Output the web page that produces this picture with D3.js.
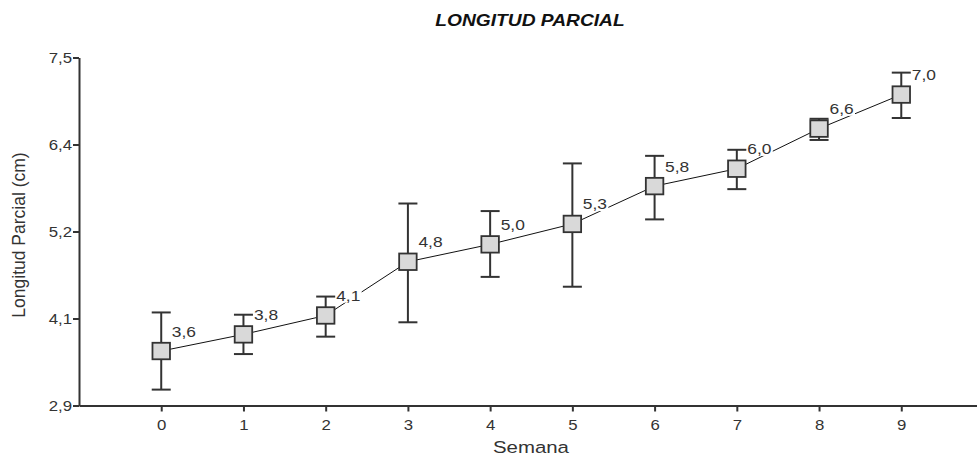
<!DOCTYPE html>
<html>
<head>
<meta charset="utf-8">
<script src="https://cdn.jsdelivr.net/npm/d3@7"></script>
<style>
  html, body { margin: 0; padding: 0; background: #fff; }
  svg { display: block; }
  text { font-family: "Liberation Sans", Arial, sans-serif; fill: #333; }
</style>
</head>
<body>
<svg id="chart" width="977" height="456"></svg>
<script>
// Weekly mean partial length with error bars
const semanas = [0, 1, 2, 3, 4, 5, 6, 7, 8, 9];
const media   = [3.62, 3.84, 4.09, 4.80, 5.03, 5.30, 5.80, 6.03, 6.56, 7.01];
const superior = [4.13, 4.10, 4.34, 5.57, 5.47, 6.10, 6.20, 6.28, 6.69, 7.30];
const inferior = [3.11, 3.58, 3.81, 4.00, 4.60, 4.47, 5.36, 5.76, 6.41, 6.70];
const yTickValues = [2.9, 4.05, 5.2, 6.35, 7.5];
const yTickLabels = ["2,9", "4,1", "5,2", "6,4", "7,5"];

const W = 977, H = 456;
const SX = 1.2; // horizontal widening of the text glyphs
const ink = "#333";

const svg = d3.select("#chart");

const x = d3.scaleLinear().domain([-1, 10]).range([79, 983.5]);
const y = d3.scaleLinear().domain([2.9, 7.5]).range([405.5, 57.5]);

const fmt = v => v.toFixed(1).replace(".", ",");

// Widened text placed at (px, py)
function wideText(parent, px, py, str, size, anchor) {
  const g = parent.append("g").attr("transform", `translate(${px},${py}) scale(${SX},1)`);
  const t = g.append("text").attr("font-size", size).attr("text-anchor", anchor || "start").text(str);
  return { g, t };
}

// Title
wideText(svg, 530, 26, "LONGITUD PARCIAL", 16, "middle").t
  .attr("font-weight", "bold").attr("font-style", "italic").style("fill", "#111");

// Y axis
const yAxis = d3.axisLeft(y).tickValues(yTickValues)
  .tickFormat((d, i) => yTickLabels[i]).tickSize(6).tickSizeOuter(0).tickPadding(0);
const gy = svg.append("g").attr("transform", "translate(79,0)").call(yAxis);
gy.select(".domain").attr("stroke", ink).attr("stroke-width", 2);
gy.selectAll(".tick line").attr("stroke", ink).attr("stroke-width", 2);
gy.selectAll(".tick text")
  .attr("x", null).attr("dy", null)
  .attr("font-size", 14).attr("font-family", null)
  .attr("fill", ink)
  .attr("transform", `translate(-7,5) scale(${SX},1)`);

// X axis
const xAxis = d3.axisBottom(x).tickValues(semanas).tickSize(6).tickSizeOuter(0).tickPadding(0);
const gx = svg.append("g").attr("transform", "translate(0,405.5)").call(xAxis);
gx.select(".domain").attr("stroke", ink).attr("stroke-width", 2);
gx.selectAll(".tick line").attr("stroke", ink).attr("stroke-width", 2);
gx.selectAll(".tick text")
  .attr("y", null).attr("dy", null)
  .attr("font-size", 14).attr("font-family", null)
  .attr("fill", ink)
  .attr("transform", `translate(0,24) scale(${SX},1)`);

// Axis titles
wideText(svg, 531, 453, "Semana", 17, "middle");
svg.append("text")
  .attr("transform", `translate(25,235) rotate(-90)`)
  .attr("text-anchor", "middle")
  .attr("font-size", 17.5)
  .text("Longitud Parcial (cm)");

// Connecting line
const line = d3.line().x((d, i) => x(semanas[i])).y(d => y(d));
svg.append("path")
  .datum(media)
  .attr("d", line)
  .attr("fill", "none")
  .attr("stroke", "#111")
  .attr("stroke-width", 1);

// Value labels with white backing
const labels = svg.append("g");
media.forEach((v, i) => {
  const { g, t } = wideText(labels, x(semanas[i]) + 10.5, y(v) - 14.5, fmt(v), 14.5, "start");
  t.attr("fill", ink);
  const bb = t.node().getBBox();
  g.insert("rect", "text")
    .attr("x", bb.x - 1).attr("y", bb.y + 1)
    .attr("width", bb.width + 2).attr("height", bb.height - 2)
    .attr("fill", "#fff");
});

// Error bars
const capHalf = 9.5;
const eb = svg.append("g").attr("stroke", ink).attr("stroke-width", 2).attr("fill", "none");
semanas.forEach((s, i) => {
  const cx = x(s);
  eb.append("line").attr("x1", cx).attr("x2", cx).attr("y1", y(superior[i])).attr("y2", y(inferior[i]));
  eb.append("line").attr("x1", cx - capHalf).attr("x2", cx + capHalf).attr("y1", y(superior[i])).attr("y2", y(superior[i]));
  eb.append("line").attr("x1", cx - capHalf).attr("x2", cx + capHalf).attr("y1", y(inferior[i])).attr("y2", y(inferior[i]));
});

// Square markers
const mw = 17.5, mh = 16.5;
svg.append("g").selectAll("rect")
  .data(media)
  .join("rect")
  .attr("x", (d, i) => x(semanas[i]) - mw / 2)
  .attr("y", d => y(d) - mh / 2)
  .attr("width", mw)
  .attr("height", mh)
  .attr("fill", "#d9d9d9")
  .attr("stroke", ink)
  .attr("stroke-width", 1.8);
</script>
</body>
</html>
